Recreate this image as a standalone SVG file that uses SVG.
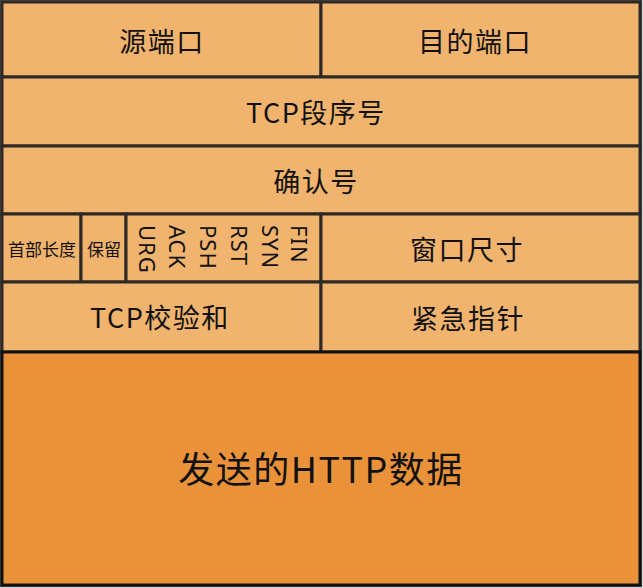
<svg xmlns="http://www.w3.org/2000/svg" width="643" height="588" viewBox="0 0 643 588">
<style>
.cell{fill:#F1B46E;stroke:#2d2926;stroke-width:3}
.data{fill:#EA923A;stroke:#111;stroke-width:3}
.t{font-family:"Noto Sans CJK SC","Noto Sans",sans-serif;fill:#111;text-anchor:middle;dominant-baseline:central}
.big{font-size:27px;letter-spacing:1.5px}
.sm{font-size:17px}
.flag{font-family:"Noto Sans","Noto Sans CJK SC",sans-serif;font-size:22px;fill:#111;dominant-baseline:central;letter-spacing:1px}
</style>
<rect x="0" y="0" width="643" height="588" fill="#d8d8d8"/>
<rect x="1" y="1" width="640" height="585" fill="#F1B46E" stroke="#555" stroke-width="2"/>
<g id="src"><rect class="cell" x="2" y="2" width="319" height="75"/><text class="t big" x="162" y="40">源端口</text></g>
<g id="dst"><rect class="cell" x="321" y="2" width="319" height="75"/><text class="t big" x="475" y="40">目的端口</text></g>
<g id="seq"><rect class="cell" x="2" y="77" width="638" height="69"/><text class="t big" x="316" y="111">TCP段序号</text></g>
<g id="ack"><rect class="cell" x="2" y="146" width="638" height="68"/><text class="t big" x="316" y="180">确认号</text></g>
<g id="hlen"><rect class="cell" x="2" y="214" width="79" height="68"/><text class="t sm" x="42" y="248">首部长度</text></g>
<g id="rsv"><rect class="cell" x="81" y="214" width="45" height="68"/><text class="t sm" x="104" y="248">保留</text></g>
<g id="flags"><rect class="cell" x="126" y="214" width="195" height="68"/>
<text class="flag" transform="translate(148,225) rotate(90)">URG</text>
<text class="flag" transform="translate(178,225) rotate(90)">ACK</text>
<text class="flag" transform="translate(209,225) rotate(90)">PSH</text>
<text class="flag" transform="translate(240,225) rotate(90)">RST</text>
<text class="flag" transform="translate(271,225) rotate(90)">SYN</text>
<text class="flag" transform="translate(300,225) rotate(90)">FIN</text>
</g>
<g id="win"><rect class="cell" x="321" y="214" width="319" height="68"/><text class="t big" x="467" y="248">窗口尺寸</text></g>
<g id="cksum"><rect class="cell" x="2" y="282" width="319" height="70"/><text class="t big" x="160" y="316">TCP校验和</text></g>
<g id="urgp"><rect class="cell" x="321" y="282" width="319" height="70"/><text class="t big" x="468" y="317">紧急指针</text></g>
<g id="data"><rect class="data" x="2" y="352" width="638" height="233"/><text class="t" style="font-size:36px;letter-spacing:1.5px" x="321" y="467">发送的HTTP数据</text></g>
<g id="connectors"></g>
</svg>
